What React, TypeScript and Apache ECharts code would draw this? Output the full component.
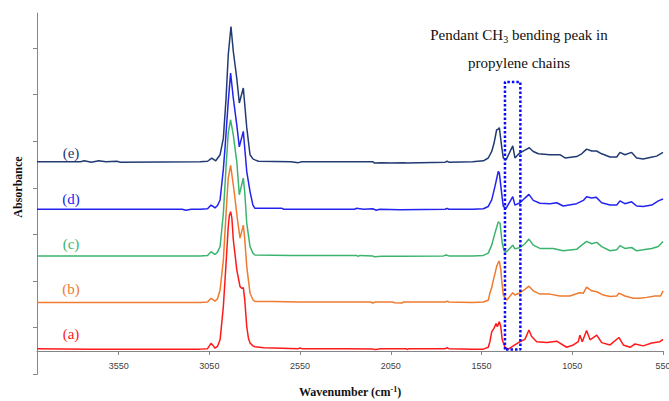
import React, { useEffect, useRef } from "react";
import * as echarts from "echarts";

// FTIR spectra of five samples, stacked with a vertical offset of one unit each.
// Each spectrum is a list of [wavenumber (cm-1), absorbance] pairs.

const SAMPLE_LABELS = ["(a)", "(b)", "(c)", "(d)", "(e)"];
const SAMPLE_COLORS = ["#ff1a1a", "#ee7b30", "#3cb46e", "#2323f0", "#213b72"];
const OFFSETS = [0, 1, 2, 3, 4];

const WAVENUMBER_TICKS = [3550, 3050, 2550, 2050, 1550, 1050, 550];
const ABSORBANCE_TICKS = [-0.5, 0.5, 1.5, 2.5, 3.5, 4.5, 5.5, 6.5];

// CH3 bending band (cm-1) and the height of its marker box
const CH3_BAND = [1421, 1336];
const CH3_BAND_TOP = 5.77;

const spectrumA: number[][] = [
  [4000, 0.05], [3700, 0.04], [3400, 0.04], [3100, 0.04], [3060, 0.05],
  [3041, 0.165], [3030, 0.12], [3019, 0.06], [3005, 0.1], [2991, 0.24],
  [2973, 0.95], [2958, 1.88], [2946, 2.67], [2940, 2.9], [2933, 2.99],
  [2926, 2.85], [2918, 2.38], [2908, 2.05], [2899, 1.74], [2881, 1.38],
  [2870, 1.34], [2863, 1.36], [2855, 1.1], [2844, 0.52], [2835, 0.28],
  [2826, 0.17], [2810, 0.11], [2799, 0.09], [2750, 0.07], [2650, 0.06],
  [2560, 0.05], [2550, 0.065], [2540, 0.05], [2300, 0.05], [2150, 0.045],
  [2140, 0.03], [2120, 0.035], [2110, 0.05], [1965, 0.05], [1960, 0.03],
  [1950, 0.05], [1750, 0.05], [1740, 0.07], [1730, 0.05], [1600, 0.04],
  [1540, 0.04], [1513, 0.08], [1504, 0.2], [1494, 0.41], [1481, 0.49],
  [1470, 0.59], [1463, 0.52], [1452, 0.63], [1444, 0.52], [1436, 0.24],
  [1421, 0.08], [1403, 0.04], [1375, 0.11], [1338, 0.2], [1311, 0.25],
  [1289, 0.45], [1274, 0.31], [1246, 0.2], [1191, 0.18], [1136, 0.21],
  [1081, 0.08], [1044, 0.13], [1017, 0.2], [1008, 0.34], [995, 0.2],
  [971, 0.44], [952, 0.24], [915, 0.34], [888, 0.18], [842, 0.13],
  [793, 0.29], [769, 0.13], [732, 0.08], [704, 0.15], [659, 0.11],
  [612, 0.17], [567, 0.2], [550, 0.25],
];

const spectrumB: number[][] = [
  [4000, 0.04], [3500, 0.04], [3100, 0.04], [3060, 0.05], [3041, 0.13],
  [3030, 0.1], [3019, 0.07], [3005, 0.12], [2991, 0.31], [2973, 0.95],
  [2958, 1.95], [2946, 2.71], [2933, 2.98], [2918, 2.56], [2908, 2.24],
  [2895, 1.81], [2881, 1.42], [2863, 1.7], [2855, 1.4], [2844, 0.81],
  [2826, 0.24], [2810, 0.1], [2799, 0.06], [2700, 0.06], [2560, 0.05],
  [2300, 0.05], [2160, 0.05], [2150, 0.03], [2135, 0.05], [2040, 0.05],
  [2030, 0.035], [1990, 0.03], [1980, 0.05], [1750, 0.05], [1740, 0.07],
  [1730, 0.05], [1600, 0.04], [1540, 0.05], [1513, 0.09], [1504, 0.24],
  [1494, 0.36], [1485, 0.52], [1476, 0.66], [1467, 0.81], [1458, 0.9],
  [1452, 0.93], [1444, 0.75], [1439, 0.52], [1430, 0.2], [1411, 0.09],
  [1378, 0.25], [1366, 0.2], [1338, 0.25], [1311, 0.32], [1289, 0.39],
  [1265, 0.29], [1228, 0.22], [1173, 0.22], [1118, 0.18], [1063, 0.18],
  [1011, 0.25], [989, 0.24], [971, 0.37], [943, 0.29], [915, 0.27],
  [879, 0.2], [842, 0.17], [805, 0.18], [793, 0.24], [760, 0.18],
  [714, 0.13], [677, 0.13], [640, 0.15], [594, 0.18], [563, 0.18],
  [550, 0.29],
];

const spectrumC: number[][] = [
  [4000, 0.04], [3500, 0.04], [3100, 0.04], [3060, 0.05], [3041, 0.13],
  [3030, 0.1], [3019, 0.07], [3005, 0.12], [2991, 0.24], [2973, 0.95],
  [2958, 1.95], [2946, 2.68], [2933, 2.96], [2918, 2.63], [2899, 2.06],
  [2885, 1.35], [2863, 1.71], [2855, 1.4], [2844, 0.74], [2826, 0.24],
  [2810, 0.1], [2799, 0.06], [2600, 0.05], [2450, 0.05], [2300, 0.05],
  [2240, 0.05], [2230, 0.03], [2220, 0.05], [2150, 0.04], [2140, 0.02],
  [2100, 0.03], [2000, 0.03], [1760, 0.04], [1745, 0.06], [1730, 0.04],
  [1600, 0.04], [1540, 0.05], [1513, 0.1], [1494, 0.27], [1476, 0.53],
  [1458, 0.77], [1448, 0.74], [1436, 0.31], [1426, 0.15], [1411, 0.13],
  [1378, 0.27], [1366, 0.19], [1338, 0.22], [1311, 0.3], [1289, 0.4],
  [1265, 0.27], [1228, 0.2], [1155, 0.2], [1100, 0.15], [1026, 0.18],
  [998, 0.27], [971, 0.35], [943, 0.3], [915, 0.33], [888, 0.24],
  [842, 0.15], [805, 0.17], [787, 0.26], [760, 0.2], [723, 0.22],
  [695, 0.15], [659, 0.17], [612, 0.2], [576, 0.24], [550, 0.35],
];

const spectrumD: number[][] = [
  [4000, 0.04], [3500, 0.04], [3200, 0.04], [3180, 0.02], [3150, 0.04],
  [3100, 0.04], [3060, 0.05], [3041, 0.13], [3030, 0.1], [3019, 0.07],
  [3005, 0.12], [2991, 0.24], [2973, 0.9], [2964, 1.35], [2946, 2.35],
  [2933, 2.96], [2918, 2.42], [2899, 1.85], [2885, 1.38], [2863, 1.71],
  [2844, 0.85], [2826, 0.42], [2810, 0.13], [2799, 0.06], [2650, 0.06],
  [2640, 0.04], [2400, 0.04], [2250, 0.04], [2240, 0.06], [2200, 0.04],
  [2150, 0.05], [2130, 0.02], [2110, 0.04], [2000, 0.03], [1750, 0.04],
  [1740, 0.06], [1730, 0.04], [1600, 0.04], [1540, 0.05], [1513, 0.1],
  [1494, 0.24], [1476, 0.53], [1458, 0.85], [1452, 0.82], [1436, 0.28],
  [1430, 0.1], [1415, 0.06], [1378, 0.31], [1366, 0.13], [1338, 0.18],
  [1311, 0.28], [1289, 0.36], [1265, 0.23], [1228, 0.17], [1173, 0.16],
  [1136, 0.18], [1100, 0.11], [1026, 0.16], [989, 0.23], [971, 0.31],
  [943, 0.28], [919, 0.3], [888, 0.18], [842, 0.13], [805, 0.13],
  [787, 0.22], [760, 0.16], [723, 0.2], [695, 0.11], [659, 0.1],
  [612, 0.13], [576, 0.22], [550, 0.26],
];

const spectrumE: number[][] = [
  [4000, 0.06], [3760, 0.06], [3740, 0.08], [3700, 0.05], [3660, 0.08],
  [3620, 0.06], [3560, 0.07], [3540, 0.05], [3100, 0.06], [3060, 0.07],
  [3037, 0.135], [3015, 0.08], [2991, 0.21], [2973, 0.56], [2958, 1.42],
  [2946, 2.35], [2931, 2.96], [2918, 2.42], [2899, 1.85], [2885, 1.32],
  [2863, 1.64], [2844, 0.79], [2826, 0.21], [2810, 0.12], [2799, 0.1],
  [2780, 0.07], [2600, 0.06], [2560, 0.04], [2540, 0.06], [2150, 0.06],
  [2140, 0.03], [2100, 0.04], [2050, 0.03], [1980, 0.04], [1960, 0.03],
  [1750, 0.05], [1740, 0.07], [1730, 0.05], [1600, 0.06], [1540, 0.08],
  [1513, 0.14], [1494, 0.28], [1481, 0.46], [1467, 0.74], [1458, 0.76],
  [1452, 0.79], [1439, 0.38], [1430, 0.14], [1415, 0.1], [1378, 0.4],
  [1366, 0.14], [1342, 0.24], [1311, 0.31], [1287, 0.36], [1265, 0.28],
  [1237, 0.23], [1173, 0.21], [1118, 0.21], [1090, 0.14], [1026, 0.17],
  [998, 0.23], [971, 0.33], [943, 0.29], [916, 0.29], [888, 0.23],
  [842, 0.16], [805, 0.16], [787, 0.26], [760, 0.21], [723, 0.26],
  [695, 0.14], [659, 0.12], [622, 0.15], [585, 0.18], [550, 0.26],
];

const SPECTRA = [spectrumA, spectrumB, spectrumC, spectrumD, spectrumE];

const AXIS_GRAY = "#868686";
const SERIF = "'Liberation Serif', 'Times New Roman', serif";

// plot area, in pixels
const GRID = { left: 37, right: 6, top: 13, bottom: 26.7 };
const CHART_H = 401;
const Y_MIN = -0.5;
const Y_MAX = 7.25;

export default function App() {
  const ref = useRef<HTMLDivElement>(null);

  useEffect(() => {
    if (!ref.current) return;
    const chart = echarts.init(ref.current, undefined, { renderer: "svg" });

    // the wavenumber axis crosses the absorbance axis at zero
    const plotH = CHART_H - GRID.top - GRID.bottom;
    const zeroLift = ((0 - Y_MIN) / (Y_MAX - Y_MIN)) * plotH;

    const spectraSeries = SPECTRA.map((spec, i) => ({
      type: "line",
      name: SAMPLE_LABELS[i],
      data: spec.map(([w, a]) => [w, a + OFFSETS[i]]),
      showSymbol: false,
      symbol: "none",
      lineStyle: { color: SAMPLE_COLORS[i], width: 1.5 },
      z: 2,
    }));

    const bandBox = {
      type: "line",
      name: "CH3 band",
      data: [
        [CH3_BAND[0], 0.03],
        [CH3_BAND[0], CH3_BAND_TOP],
        [CH3_BAND[1], CH3_BAND_TOP],
        [CH3_BAND[1], 0.03],
        [CH3_BAND[0], 0.03],
      ],
      showSymbol: false,
      symbol: "none",
      lineStyle: { color: "#0a0aff", width: 2.5, type: [2.5, 2], cap: "butt" },
      z: 5,
    };

    // heights (px) of the sample tags at the left of each trace
    const tagY = [334, 289, 244, 199, 153];

    chart.setOption({
      animation: false,
      backgroundColor: "#ffffff",
      grid: {
        ...GRID,
        containLabel: false,
        outerBoundsMode: "none",
      },
      xAxis: {
        type: "value",
        inverse: true,
        min: 550,
        max: 4000,
        interval: 500,
        offset: -zeroLift,
        axisLine: { show: true, onZero: false, lineStyle: { color: AXIS_GRAY, width: 1 } },
        axisTick: {
          show: true,
          length: 4,
          customValues: WAVENUMBER_TICKS,
          lineStyle: { color: AXIS_GRAY },
        },
        axisLabel: {
          show: true,
          customValues: WAVENUMBER_TICKS,
          formatter: (v: number) => (v > 3600 ? "" : String(v)),
          fontSize: 9,
          color: "#404040",
          fontFamily: "'Liberation Sans', Arial, sans-serif",
          margin: 11,
        },
        splitLine: { show: false },
      },
      yAxis: {
        type: "value",
        min: Y_MIN,
        max: Y_MAX,
        interval: 1,
        axisLine: { show: true, onZero: false, lineStyle: { color: AXIS_GRAY, width: 1 } },
        axisTick: {
          show: true,
          length: 4,
          customValues: ABSORBANCE_TICKS,
          lineStyle: { color: AXIS_GRAY },
        },
        axisLabel: { show: false },
        splitLine: { show: false },
      },
      series: [...spectraSeries, bandBox],
      graphic: [
        ...SAMPLE_LABELS.map((label, i) => ({
          type: "text",
          x: 71,
          y: tagY[i],
          style: {
            text: label,
            fill: SAMPLE_COLORS[i],
            font: `15px ${SERIF}`,
            textAlign: "center",
            textVerticalAlign: "middle",
          },
          z: 10,
        })),
        {
          type: "text",
          x: 18,
          y: 187,
          rotation: Math.PI / 2,
          style: {
            text: "Absorbance",
            fill: "#111",
            font: `bold 12px ${SERIF}`,
            textAlign: "center",
            textVerticalAlign: "middle",
          },
        },
        {
          type: "text",
          x: 350,
          y: 392,
          style: {
            text: "{t|Wavenumber (cm}{s|-1}{t|)}",
            textAlign: "center",
            textVerticalAlign: "middle",
            rich: {
              t: { font: `bold 12px ${SERIF}`, fill: "#111", lineHeight: 14 },
              s: {
                font: `bold 8px ${SERIF}`,
                fill: "#111",
                lineHeight: 8,
                verticalAlign: "top",
              },
            },
          },
        },
        {
          type: "text",
          x: 519,
          y: 35,
          style: {
            text: "{t|Pendant CH}{s|3}{t| bending peak in}",
            textAlign: "center",
            textVerticalAlign: "middle",
            rich: {
              t: { font: `15px ${SERIF}`, fill: "#111", lineHeight: 18 },
              s: {
                font: `10px ${SERIF}`,
                fill: "#111",
                lineHeight: 10,
                verticalAlign: "bottom",
              },
            },
          },
        },
        {
          type: "text",
          x: 519,
          y: 63,
          style: {
            text: "propylene chains",
            fill: "#111",
            font: `15px ${SERIF}`,
            textAlign: "center",
            textVerticalAlign: "middle",
          },
        },
      ],
    });

    return () => chart.dispose();
  }, []);

  return (
    <div
      ref={ref}
      style={{ position: "fixed", left: 0, top: 0, width: 669, height: 401, background: "#fff" }}
    />
  );
}
